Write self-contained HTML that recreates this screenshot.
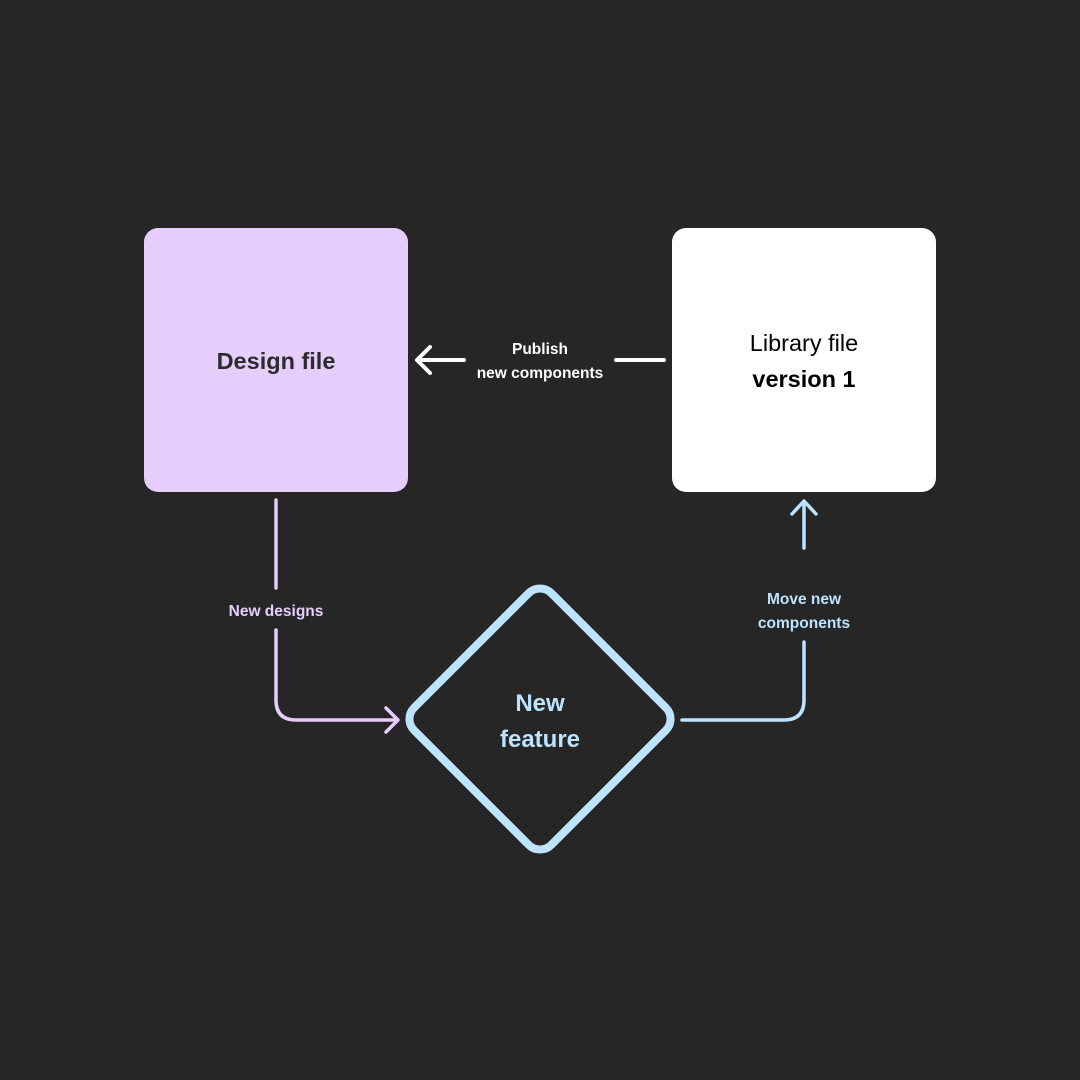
<!DOCTYPE html>
<html><head><style>
body{margin:0;background:#262626;}
svg{display:block}
text{font-family:"Liberation Sans",sans-serif;font-weight:bold}
</style></head><body>
<svg width="1080" height="1080" viewBox="0 0 1080 1080" xmlns="http://www.w3.org/2000/svg">
<rect width="1080" height="1080" fill="#262626"/>
<rect x="144" y="228" width="264" height="264" rx="14" fill="#E5CEFC"/>
<rect x="672" y="228" width="264" height="264" rx="14" fill="#FFFFFF"/>
<text x="276" y="369" font-size="23.5" fill="#2C2C2C" text-anchor="middle">Design file</text>
<text x="804" y="351" font-size="23.5" fill="#000" text-anchor="middle" style="font-weight:normal">Library file</text>
<text x="804" y="387" font-size="23.5" fill="#000" text-anchor="middle">version 1</text>
<g stroke="#fff" stroke-width="4" stroke-linecap="round" fill="none" stroke-linejoin="round">
<line x1="418" y1="360" x2="464" y2="360"/>
<polyline points="430,347 417,360 430,373"/>
<line x1="616" y1="360" x2="664" y2="360"/>
</g>
<text x="540" y="354" font-size="15.5" fill="#fff" text-anchor="middle">Publish</text>
<text x="540" y="378" font-size="15.5" fill="#fff" text-anchor="middle">new components</text>
<g stroke="#E5CEFC" stroke-width="3.5" stroke-linecap="round" fill="none" stroke-linejoin="round">
<line x1="276" y1="500" x2="276" y2="588"/>
<path d="M276 630 V700 Q276 720 296 720 H396"/>
<polyline points="386,708 398,720 386,732"/>
</g>
<text x="276" y="616" font-size="15.5" fill="#E5CEFC" text-anchor="middle">New designs</text>
<g stroke="#BDE3FF" stroke-width="3.5" stroke-linecap="round" fill="none" stroke-linejoin="round">
<path d="M682 720 H784 Q804 720 804 700 V642"/>
<line x1="804" y1="548" x2="804" y2="502"/>
<polyline points="792,514 804,501 816,514"/>
</g>
<text x="804" y="604" font-size="15.5" fill="#BDE3FF" text-anchor="middle">Move new</text>
<text x="804" y="628" font-size="15.5" fill="#BDE3FF" text-anchor="middle">components</text>
<rect x="443" y="622" width="194" height="194" rx="16" transform="rotate(45 540 719)" fill="none" stroke="#BDE3FF" stroke-width="8"/>
<text x="540" y="711" font-size="24" fill="#BDE3FF" text-anchor="middle">New</text>
<text x="540" y="747" font-size="24" fill="#BDE3FF" text-anchor="middle">feature</text>
</svg>
</body></html>
